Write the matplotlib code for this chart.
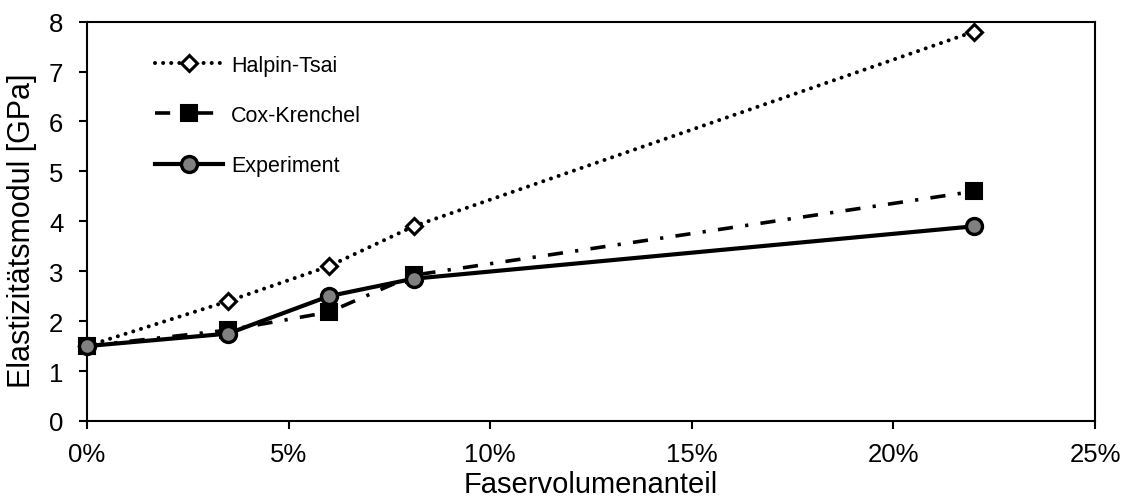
import matplotlib
matplotlib.use("Agg")
import matplotlib.pyplot as plt
from matplotlib.ticker import PercentFormatter, MultipleLocator

plt.rcParams["font.family"] = ["Liberation Sans", "DejaVu Sans"]

# fibre volume fraction
fvf = [0.0, 0.035, 0.06, 0.081, 0.22]

halpin_tsai = [1.5, 2.4, 3.1, 3.9, 7.8]
cox_krenchel = [1.5, 1.82, 2.18, 2.92, 4.6]
experiment = [1.5, 1.75, 2.5, 2.85, 3.9]

labels = ["Halpin-Tsai", "Cox-Krenchel", "Experiment"]

fig = plt.figure(figsize=(11.22, 5.02), dpi=100)
ax = fig.add_axes([0.0775, 0.1594, 0.8985, 0.7956])

ax.plot(fvf, halpin_tsai, color="black", linewidth=2.9,
        linestyle=(0, (0.01, 2.0)), dash_capstyle="round",
        marker="D", markersize=8.5, markerfacecolor="white",
        markeredgecolor="black", markeredgewidth=2.2,
        label=labels[0], clip_on=False, zorder=3)
ax.plot(fvf, cox_krenchel, color="black", linewidth=2.6,
        linestyle=(0, (4.2, 3.4, 0.9, 3.4)),
        marker="s", markersize=12, markerfacecolor="black",
        markeredgecolor="black", markeredgewidth=1.5,
        label=labels[1], clip_on=False, zorder=4)
ax.plot(fvf, experiment, color="black", linewidth=3.0, linestyle="-",
        marker="o", markersize=11.5, markerfacecolor="#808080",
        markeredgecolor="black", markeredgewidth=2.4,
        label=labels[2], clip_on=False, zorder=5)

ax.set_xlim(0, 0.25)
ax.set_ylim(0, 8)
ax.xaxis.set_major_locator(MultipleLocator(0.05))
ax.xaxis.set_major_formatter(PercentFormatter(xmax=1, decimals=0))
ax.yaxis.set_major_locator(MultipleLocator(1))

for s in ax.spines.values():
    s.set_linewidth(1.5)
ax.tick_params(axis="both", direction="out", length=6, width=1.5,
               labelsize=18.5, pad=9)
ax.tick_params(axis="y", pad=11)

ax.set_xlabel("Faservolumenanteil", fontsize=21, labelpad=3)
ax.set_ylabel("Elastizitätsmodul [GPa]", fontsize=22)
ax.yaxis.set_label_coords(-0.05, 0.48)

ax.legend(loc="upper left", bbox_to_anchor=(0.048, 0.965), frameon=False,
          fontsize=15.5, handlelength=3.15, handletextpad=0.4,
          labelspacing=1.35)

fig.savefig("out.png", dpi=100)
